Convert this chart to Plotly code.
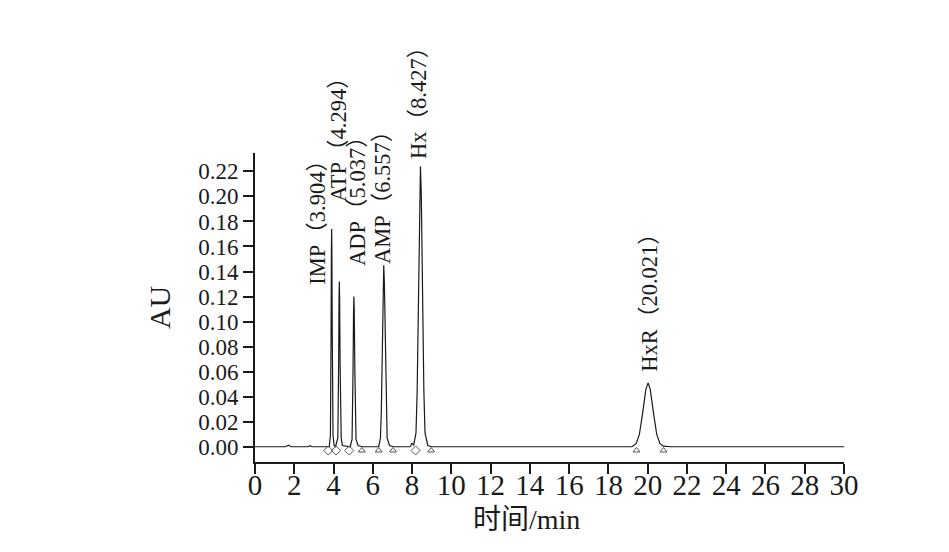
import plotly.graph_objects as go

# chromatogram trace (time in min, absorbance in AU)
time_min = [0.0, 1.55, 1.7, 1.85, 2.7, 2.8, 2.9, 3.6,
            3.78, 3.842, 3.858, 3.874, 3.892, 3.904, 3.916, 3.936, 3.955, 3.975, 4.03,
            4.10, 4.22, 4.24, 4.26, 4.28, 4.294, 4.31, 4.335, 4.36, 4.39, 4.45,
            4.85, 4.944, 4.968, 4.992, 5.02, 5.037, 5.055, 5.087, 5.115, 5.145, 5.25, 5.45,
            6.30, 6.39, 6.435, 6.477, 6.526, 6.557, 6.59, 6.64, 6.685, 6.73, 6.85, 7.05,
            7.90, 8.00, 8.08, 8.20, 8.26, 8.317, 8.384, 8.427, 8.47, 8.54, 8.60, 8.66, 8.80, 9.0,
            19.2, 19.42, 19.58, 19.73, 19.91, 20.021, 20.13, 20.31, 20.46, 20.62, 20.8, 21.2,
            22.6, 23.0, 23.5, 30.0]
absorbance = [0.0, 0.0, 0.0012, 0.0, 0.0, 0.0008, 0.0, 0.0,
              0.0, 0.009, 0.035, 0.087, 0.157, 0.174, 0.157, 0.087, 0.035, 0.009, 0.001,
              0.0, 0.007, 0.026, 0.066, 0.119, 0.132, 0.119, 0.066, 0.026, 0.007, 0.001,
              0.0, 0.006, 0.024, 0.060, 0.108, 0.120, 0.108, 0.060, 0.024, 0.006, 0.001, 0.0,
              0.0, 0.007, 0.029, 0.073, 0.131, 0.145, 0.131, 0.073, 0.029, 0.007, 0.001, 0.0,
              0.0, 0.003, 0.001, 0.011, 0.045, 0.112, 0.202, 0.224, 0.202, 0.112, 0.045, 0.011, 0.001, 0.0,
              0.0, 0.0026, 0.010, 0.0255, 0.046, 0.051, 0.046, 0.0255, 0.010, 0.0026, 0.0005, 0.0,
              0.0, 0.0005, 0.0, 0.0]

# integration markers
diamond_t = [3.73, 4.13, 4.80, 8.18]
triangle_t = [5.44, 6.30, 7.03, 8.97, 19.43, 20.81]
marker_level = -0.003

# peak labels
peak_names = ["IMP", "ATP", "ADP", "AMP", "Hx", "HxR"]
peak_rt = ["3.904", "4.294", "5.037", "6.557", "8.427", "20.021"]
label_x = [3.18, 4.22, 5.19, 6.46, 8.32, 20.08]
label_y = [0.129, 0.1947, 0.144, 0.145, 0.229, 0.059]

x_ticks = list(range(0, 31, 2))
y_ticks = [0.00, 0.02, 0.04, 0.06, 0.08, 0.10, 0.12, 0.14, 0.16, 0.18, 0.20, 0.22]

SERIF = "Liberation Serif, Times New Roman, Noto Sans CJK SC, serif"

fig = go.Figure()
fig.add_trace(go.Scatter(x=time_min, y=absorbance, mode="lines",
                         line=dict(color="#1a1a1a", width=1.2), showlegend=False,
                         hoverinfo="skip"))
fig.add_trace(go.Scatter(x=diamond_t, y=[marker_level] * len(diamond_t), mode="markers",
                         marker=dict(symbol="diamond-open", size=7, color="#555555",
                                     line=dict(width=1)), showlegend=False))
fig.add_trace(go.Scatter(x=triangle_t, y=[marker_level] * len(triangle_t), mode="markers",
                         marker=dict(symbol="triangle-up-open", size=6, color="#555555",
                                     line=dict(width=1)), showlegend=False))

for name, rt, lx, ly in zip(peak_names, peak_rt, label_x, label_y):
    fig.add_annotation(x=lx, y=ly, xref="x", yref="y",
                       text=f"{name}（{rt}）", textangle=-90, showarrow=False,
                       xanchor="center", yanchor="bottom", borderpad=0,
                       font=dict(family=SERIF, size=22.5, color="#1a1a1a"))

fig.add_annotation(x=-0.162, y=0.5, xref="paper", yref="paper", text="AU",
                   textangle=-90, showarrow=False, xanchor="center", yanchor="middle",
                   font=dict(family=SERIF, size=30, color="#1a1a1a"))
fig.add_annotation(x=0.4606, y=-0.1877, xref="paper", yref="paper", text="时间/min",
                   showarrow=False, xanchor="center", yanchor="middle",
                   font=dict(family=SERIF, size=28, color="#1a1a1a"))

fig.update_xaxes(range=[0, 30], tickvals=x_ticks, ticktext=[str(v) for v in x_ticks],
                 showline=True, linewidth=2, linecolor="#1a1a1a", mirror=False,
                 ticks="outside", ticklen=10, tickwidth=1.5, tickcolor="#1a1a1a",
                 ticklabelstandoff=-14,
                 showgrid=False, zeroline=False,
                 tickfont=dict(family=SERIF, size=29, color="#1a1a1a"))
fig.update_yaxes(range=[-0.0122, 0.2347], tickvals=y_ticks, tickformat=".2f",
                 showline=True, linewidth=2, linecolor="#1a1a1a",
                 ticks="outside", ticklen=10, tickwidth=1.5, tickcolor="#1a1a1a",
                 showgrid=False, zeroline=False,
                 tickfont=dict(family=SERIF, size=23, color="#1a1a1a"))

fig.update_layout(width=941, height=544,
                  margin=dict(l=246.5, r=105, t=145, b=90, pad=0),
                  plot_bgcolor="white", paper_bgcolor="white")

fig.write_html("out.html")
